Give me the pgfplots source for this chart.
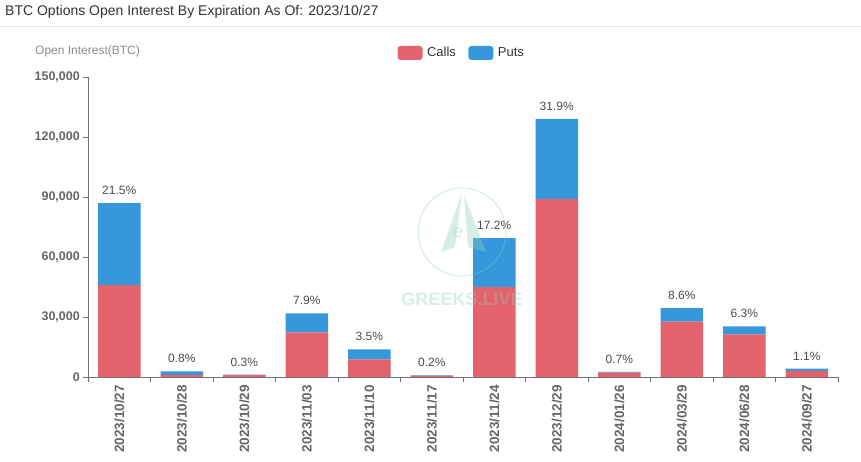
\documentclass[border=0pt]{standalone}
\usepackage{pgfplots}
\pgfplotsset{compat=1.18}
\usepackage{fontspec}
\setmainfont{Liberation Sans}
\definecolor{callred}{HTML}{E3626B}
\definecolor{putblue}{HTML}{3498DB}
\definecolor{tickgray}{HTML}{666666}
\definecolor{titlegray}{HTML}{333333}
\definecolor{axgray}{HTML}{6E7079}
\definecolor{wmark}{HTML}{8FD0BF}
\begin{document}
\begin{tikzpicture}
\useasboundingbox (0pt,0pt) rectangle (861pt,461pt);
\fill[white] (0pt,0pt) rectangle (861pt,461pt);
\node[anchor=base west, font=\fontsize{14}{16}\selectfont, text=titlegray, inner sep=0] at (5pt,445pt) {BTC Options Open Interest By Expiration As Of: 2023/10/27};
\draw[color=black!10, line width=1pt] (0pt,434pt) -- (861pt,434pt);
\node[anchor=base west, font=\fontsize{12}{14}\selectfont, text=black!45, inner sep=0] at (35pt,406pt) {Open Interest(BTC)};
\begin{axis}[
  at={(88pt,84pt)}, anchor=south west,
  scale only axis, width=750pt, height=300pt,
  ybar stacked, bar width=0.68,
  xmin=-0.5, xmax=11.5, ymin=0, ymax=150000,
  axis x line=bottom, axis y line=left,
  axis line style={-, draw=axgray},
  tick align=outside,
  major tick length=0pt,
  minor tick length=5pt,
  tick style={draw=axgray},
  xtick={0,1,2,3,4,5,6,7,8,9,10,11},
  xticklabels={2023/10/27,2023/10/28,2023/10/29,2023/11/03,2023/11/10,2023/11/17,2023/11/24,2023/12/29,2024/01/26,2024/03/29,2024/06/28,2024/09/27},
  minor xtick={-0.5,0.5,1.5,2.5,3.5,4.5,5.5,6.5,7.5,8.5,9.5,10.5,11.5},
  xticklabel style={rotate=90, anchor=east, inner sep=0pt, font=\bfseries\fontsize{13.5}{15}\selectfont, text=tickgray},
  xticklabel shift=8pt,
  ytick={0,30000,60000,90000,120000,150000},
  minor ytick={0,30000,60000,90000,120000,150000},
  yticklabels={0,{30,000},{60,000},{90,000},{120,000},{150,000}},
  scaled y ticks=false,
  yticklabel style={font=\bfseries\fontsize{12.5}{14}\selectfont, text=tickgray, inner sep=0pt},
  yticklabel shift=8pt,
  legend style={at={(0.5,1)}, anchor=center, yshift=24pt, draw=none, fill=none,
    font=\fontsize{13}{15}\selectfont, text=titlegray,
    nodes={inner sep=4.5pt},
    /tikz/every even column/.append style={column sep=8pt}},
  legend columns=2,
  clip=false,
]
\addplot+[fill=callred, draw=none,
  legend image code/.code={\fill[callred, rounded corners=3pt] (0pt,-7pt) rectangle (25pt,7pt);}]
  coordinates {(0,46000) (1,1100) (2,900) (3,22300) (4,8800) (5,600) (6,45000) (7,89000) (8,2200) (9,27700) (10,21300) (11,3100)};
\addplot+[fill=putblue, draw=none,
  legend image code/.code={\fill[putblue, rounded corners=3pt] (0pt,-7pt) rectangle (25pt,7pt);}]
  coordinates {(0,41000) (1,1700) (2,300) (3,9500) (4,5000) (5,200) (6,24500) (7,40000) (8,400) (9,6800) (10,4000) (11,1100)};
\legend{Calls,Puts}
\end{axis}
% share labels above the bar totals
\begin{axis}[
  at={(88pt,84pt)}, anchor=south west,
  scale only axis, width=750pt, height=300pt,
  xmin=-0.5, xmax=11.5, ymin=0, ymax=150000,
  hide axis, clip=false,
]
\addplot[draw=none, no marks,
  point meta=explicit symbolic,
  nodes near coords={\pgfplotspointmeta},
  every node near coord/.append style={anchor=base, inner sep=0pt, yshift=8.5pt, font=\fontsize{12}{14}\selectfont, text=black!70}]
  coordinates {(0,87000) [21.5\%] (1,2800) [0.8\%] (2,1200) [0.3\%] (3,31800) [7.9\%] (4,13800) [3.5\%] (5,800) [0.2\%] (6,69500) [17.2\%] (7,129000) [31.9\%] (8,2600) [0.7\%] (9,34500) [8.6\%] (10,25300) [6.3\%] (11,4200) [1.1\%]};
\end{axis}
% watermark (drawn over, translucent)
\begin{scope}[opacity=0.35]
\draw[wmark, line width=1.2pt] (462pt,229pt) circle (44pt);
\fill[wmark] (462pt,268pt) -- (441pt,209pt) -- (455pt,214pt) -- cycle;
\fill[wmark] (464pt,266pt) -- (486pt,209pt) -- (468pt,214pt) -- cycle;
\node[font=\itshape\fontsize{18}{20}\selectfont, text=wmark, inner sep=0] at (458pt,228pt) {e};
\node[font=\bfseries\fontsize{18}{20}\selectfont, text=wmark, inner sep=0] at (462pt,162pt) {GREEKS.LIVE};
\end{scope}
\end{tikzpicture}
\end{document}
